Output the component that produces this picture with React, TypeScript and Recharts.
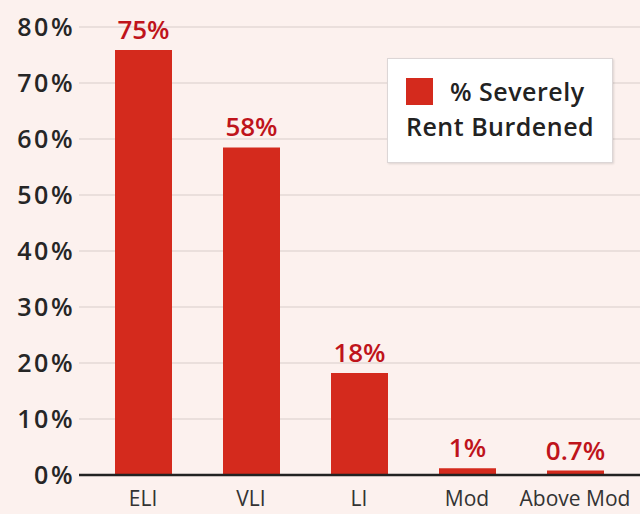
import React from "react";
import { BarChart, Bar, XAxis, YAxis, CartesianGrid, LabelList } from "recharts";

const categories = ["ELI", "VLI", "LI", "Mod", "Above Mod"];
const severelyBurdened = [75.9, 58.5, 18.2, 1.2, 0.8];
const valueLabels = ["75%", "58%", "18%", "1%", "0.7%"];
const yTicks = [0, 10, 20, 30, 40, 50, 60, 70, 80];
const legendLines = ["% Severely", "Rent Burdened"];

const data = categories.map((c, i) => ({
  name: c,
  value: severelyBurdened[i],
  label: valueLabels[i],
}));

const BAR = "#d42a1d";
const LABEL = "#bf141b";
const BG = "#fcf1ee";

const LegendBox = () => (
  <div
    style={{
      position: "absolute",
      left: 387,
      top: 58,
      width: 226,
      height: 105,
      background: "#ffffff",
      border: "1px solid #dcd6d6",
      boxShadow: "1px 1px 2px rgba(0,0,0,0.12)",
      boxSizing: "border-box",
      fontFamily: "'Open Sans', sans-serif",
      fontWeight: 600,
      fontSize: 25,
      color: "#222",
      letterSpacing: 0.5,
    }}
  >
    <div style={{ position: "absolute", left: 18, top: 19, width: 27, height: 27, background: BAR }} />
    <div style={{ position: "absolute", left: 62, top: 15, lineHeight: "34px", whiteSpace: "nowrap" }}>{legendLines[0]}</div>
    <div style={{ position: "absolute", left: 18, top: 50, lineHeight: "34px", whiteSpace: "nowrap" }}>{legendLines[1]}</div>
  </div>
);

export default function App() {
  return (
    <div style={{ position: "absolute", left: 0, top: 0, width: 640, height: 514, background: BG, overflow: "hidden" }}>
      <BarChart
        width={640}
        height={514}
        data={data}
        margin={{ top: 27, right: 0, bottom: 0, left: 0 }}
        barCategoryGap={0}
      >
        <CartesianGrid vertical={false} stroke="#e4d9d6" strokeWidth={1.5} />
        <YAxis
          type="number"
          domain={[0, 80]}
          ticks={yTicks}
          width={79}
          axisLine={false}
          tickLine={false}
          tickSize={0}
          tickMargin={4}
          tickFormatter={(v: number) => `${v}%`}
          tick={{ fill: "#262626", fontSize: 25, fontWeight: 600, fontFamily: "'Open Sans', sans-serif", letterSpacing: 2.5 }}
        />
        <XAxis
          dataKey="name"
          height={39}
          padding={{ left: 10, right: 11 }}
          axisLine={{ stroke: "#222", strokeWidth: 2.5 }}
          tickLine={false}
          tickSize={0}
          tickMargin={16}
          interval={0}
          tick={{ fill: "#333", fontSize: 21, fontFamily: "'Open Sans', sans-serif" }}
        />
        <Bar dataKey="value" fill={BAR} barSize={57} isAnimationActive={false}>
          <LabelList
            dataKey="label"
            position="top"
            offset={11}
            fill={LABEL}
            style={{ fontSize: 26, fontWeight: 600, fontFamily: "'Open Sans', sans-serif" }}
          />
        </Bar>
      </BarChart>
      <LegendBox />
    </div>
  );
}
